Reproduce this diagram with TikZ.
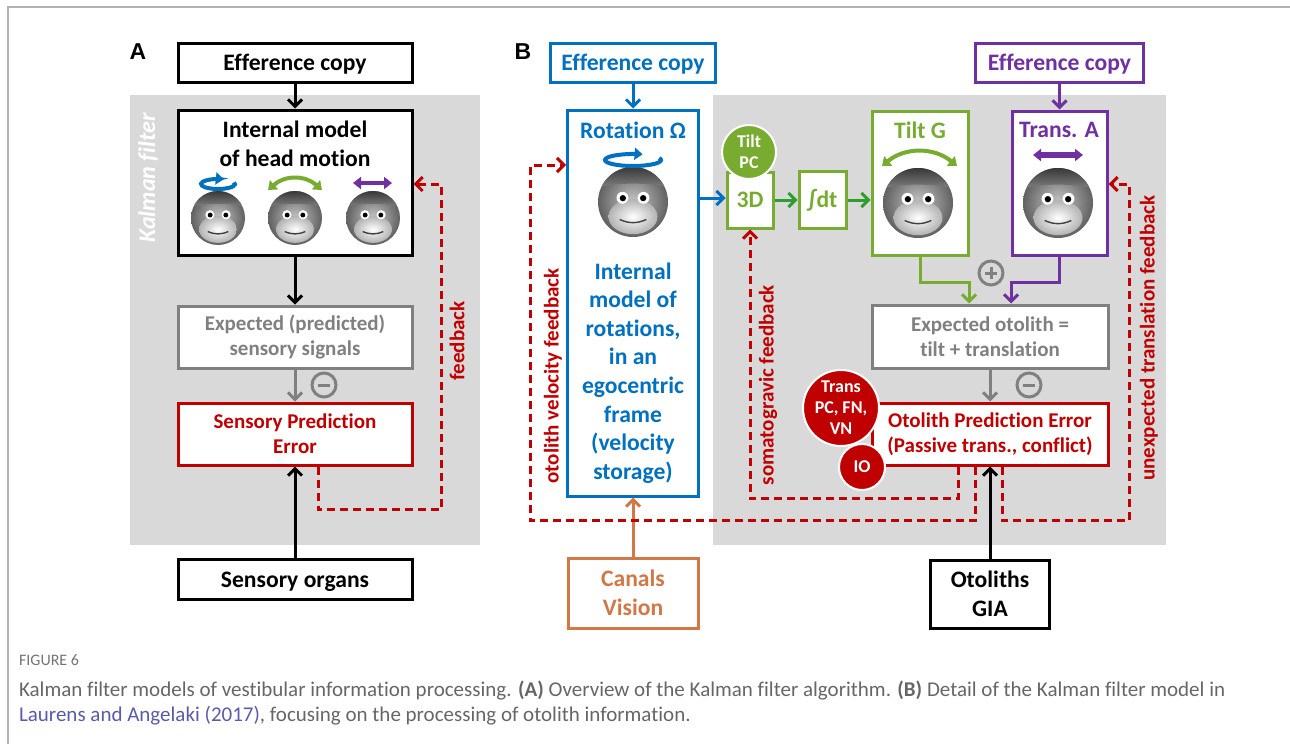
\documentclass[tikz,border=0pt]{standalone}
\usepackage{fontspec}
\setmainfont{Carlito}[Ligatures=CommonOff]
\newfontfamily\arialfont{Liberation Sans}
\usepackage{xcolor}
\usepackage{tikz}
\usetikzlibrary{arrows.meta}

\definecolor{kred}{HTML}{C00000}
\definecolor{kblue}{HTML}{0070C0}
\definecolor{kgreen}{HTML}{77AC30}
\definecolor{kdgreen}{HTML}{2E9E2E}
\definecolor{kpurple}{HTML}{7030A0}
\definecolor{kgray}{HTML}{808080}
\definecolor{kbg}{HTML}{D9D9D9}
\definecolor{korange}{HTML}{D27846}
\definecolor{klink}{HTML}{5A5AAA}

\tikzset{
  box/.style={draw, line width=1.5pt, fill=white, inner sep=0pt, align=center},
  big/.style={align=center, font=\bfseries\fontsize{11.8}{14.3}\selectfont},
  small/.style={align=center, font=\bfseries\fontsize{10.5}{12.5}\selectfont},
  arr/.style={line width=1.5pt, ->},
  fb/.style={kred, line width=1.5pt, dash pattern=on 4pt off 2.5pt, ->},
  sign/.style={circle, draw=kgray, line width=1.5pt, minimum size=12pt, inner sep=0pt},
  minus/.style={sign, path picture={\draw[kgray, line width=1.5pt] ([xshift=-3pt]path picture bounding box.center) -- ([xshift=3pt]path picture bounding box.center);}},
  plus/.style={sign, path picture={\draw[kgray, line width=1.5pt] ([xshift=-3pt]path picture bounding box.center) -- ([xshift=3pt]path picture bounding box.center) ([yshift=-3pt]path picture bounding box.center) -- ([yshift=3pt]path picture bounding box.center);}},
  blob/.style={circle, draw=white, line width=1pt, text=white, inner sep=0pt, align=center, font=\bfseries\fontsize{9}{10.5}\selectfont},
  motion/.style={line width=2pt, {Triangle[length=4pt,width=6pt]}-{Triangle[length=4pt,width=6pt]}},
  monkey/.pic={
    \shade[inner color=black!22, outer color=black!62] (0,0) circle (1);
    \begin{scope}
      \clip (0,0) circle (1);
      \shade[top color=black!78, bottom color=black!50] (-1,-1) -- (1,-1) -- (1,-0.42) .. controls (0.4,-0.56) and (-0.4,-0.56) .. (-1,-0.42) -- cycle;
    \end{scope}
    \shade[inner color=white, outer color=black!30] (0,0.42) ellipse [x radius=0.7, y radius=0.5];
    \fill[white] (-0.3,-0.12) circle (0.17) (0.3,-0.12) circle (0.17);
    \fill[black] (-0.29,-0.11) circle (0.09) (0.29,-0.11) circle (0.09);
    \draw[black!75, line width=0.7pt] (-0.38,0.5) .. controls (-0.12,0.62) and (0.12,0.62) .. (0.38,0.5);
  }
}

\begin{document}
\begin{tikzpicture}[x=0.5pt, y=-0.5pt, >={Straight Barb[length=3.5pt,width=7pt]}]
\useasboundingbox (0,0) rectangle (1290,744);
\draw[black!30, line width=0.6pt] (1290,7) -- (8,7) -- (8,744);
\fill[kbg] (130,95) rectangle (480,545);
\fill[kbg] (713,95) rectangle (1166,545);

% A
\node[font=\arialfont\bfseries\fontsize{11.5}{13}\selectfont] (labA) at (138,52) {A};
\node[white, rotate=90, font=\bfseries\itshape\fontsize{12}{14}\selectfont] (kalman) at (148,178) {Kalman filter};

\node[box, big, text depth=0pt, minimum width=117pt, minimum height=19.5pt] (effA) at (295,62.5) {Efference copy};
\node[box, minimum width=117pt, minimum height=72.5pt] (modelA) at (295,182.5) {};
\node[big] (modelAtxt) at (295,144) {Internal model\\of head motion};
\node[box, small, draw=kgray, text=kgray, minimum width=117pt, minimum height=31pt] (expA) at (295,337) {Expected (predicted)\\sensory signals};
\node[box, small, draw=kred, text=kred, minimum width=117pt, minimum height=31pt] (errA) at (295,434) {Sensory Prediction\\Error};
\node[box, big, text depth=0pt, minimum width=117pt, minimum height=20pt] (orgA) at (295,579.5) {Sensory organs};
\node[minus] (subA) at (324,385) {};

\pic[scale=27] at (218,218) {monkey};
\pic[scale=27] at (295,218) {monkey};
\pic[scale=27] at (373,218) {monkey};
\draw[kblue, line width=2pt, -{Triangle[length=4pt,width=6pt]}] (218,184) ++(-20:17 and 5) arc [start angle=-20, end angle=290, x radius=17, y radius=5];
\draw[kgreen, motion] (268,190) .. controls (285,175) and (305,175) .. (322,190);
\draw[kpurple, motion] (353,183) -- (392,183);

\draw[arr] (effA) -- (modelA);
\draw[arr] (modelA) -- (expA);
\draw[arr, kgray] (expA) -- (errA);
\draw[arr] (orgA) -- (errA);
\draw[fb] ([xshift=11.5pt]errA.south) -- ++(0,43) -| (441,184) -- (modelA.east |- 0,184);
\node[small, kred, rotate=90] (fbA) at (457,341) {feedback};

% B
\node[font=\arialfont\bfseries\fontsize{11.5}{13}\selectfont] (labB) at (523,52) {B};

\node[box, big, text depth=0pt, draw=kblue, text=kblue, minimum width=82.5pt, minimum height=19.5pt] (effB) at (633,62.5) {Efference copy};
\node[box, draw=kblue, minimum width=65.5pt, minimum height=193pt] (rotB) at (633,303) {};
\node[big, text=kblue] (rotBtitle) at (633,130) {Rotation Ω};
\node[big, text=kblue] (rotBtxt) at (633,373) {Internal\\model of\\rotations,\\in an\\egocentric\\frame\\(velocity\\storage)};
\pic[scale=35] at (633,202) {monkey};
\draw[kblue, line width=2pt, -{Triangle[length=4pt,width=6pt]}] (633,160) ++(-20:28 and 6) arc [start angle=-20, end angle=290, x radius=28, y radius=6];

\node[box, big, draw=kgreen, text=kgreen, minimum width=23pt, minimum height=28pt] (thrD) at (750,200) {3D};
\node[blob, fill=kgreen, minimum size=27pt] (tiltPC) at (749,152) {Tilt\\PC};
\node[box, big, draw=kgreen, text=kgreen, minimum width=23.5pt, minimum height=28.5pt] (intB) at (822.5,200) {∫dt};

\node[box, draw=kgreen, minimum width=48pt, minimum height=72pt] (tiltB) at (920,183) {};
\node[big, text=kgreen] (tiltBtitle) at (920,130) {Tilt G};
\pic[scale=35] at (918,203) {monkey};
\draw[kgreen, motion] (882,166) .. controls (905,147) and (934,147) .. (957,166);

\node[box, big, text depth=0pt, draw=kpurple, text=kpurple, minimum width=84pt, minimum height=19.5pt] (effB2) at (1059.5,62.5) {Efference copy};
\node[box, draw=kpurple, minimum width=47.5pt, minimum height=72pt] (transB) at (1059.5,183) {};
\node[big, text=kpurple] (transBtitle) at (1059,130) {Trans. A};
\pic[scale=35] at (1058,203) {monkey};
\draw[kpurple, motion, line width=3pt] (1033,155) -- (1083,155);

\node[box, small, draw=kgray, text=kgray, minimum width=118pt, minimum height=31.5pt] (expB) at (990,336.5) {Expected otolith =\\tilt + translation};
\node[box, small, draw=kred, text=kred, minimum width=118pt, minimum height=31pt] (errB) at (990,434) {Otolith Prediction Error\\(Passive trans., conflict)};
\node[blob, fill=kred, minimum size=38pt] (transPC) at (841,408) {Trans\\PC, FN,\\VN};
\node[blob, fill=kred, minimum size=23pt] (ioB) at (862,467) {IO};
\node[plus] (addB) at (991,273) {};
\node[minus] (subB) at (1029,385) {};

\node[box, big, minimum width=59.5pt, minimum height=34pt] (otoB) at (990,594) {Otoliths\\GIA};
\node[box, big, draw=korange, text=korange, minimum width=65pt, minimum height=35pt] (canB) at (633,593) {Canals\\Vision};

\draw[arr, kblue] (effB) -- (rotB);
\draw[arr, kblue] (rotB.east |- 0,198) -- (thrD.west |- 0,198);
\draw[arr, kdgreen] (thrD) -- (intB);
\draw[arr, kdgreen] (intB) -- (tiltB.west |- intB);
\draw[arr, kpurple] (effB2) -- (transB);
\draw[arr, kgreen] (tiltB.south) -- ++(0,26) -| ([xshift=-10.5pt]expB.north);
\draw[arr, kpurple] (transB.south) -- ++(0,26) -| ([xshift=10.5pt]expB.north);
\draw[arr, kgray] (expB) -- (errB);
\draw[arr] (otoB) -- (errB);
\draw[arr, korange] (canB) -- (rotB);

\draw[fb] ([xshift=-16pt]errB.south) -- ++(0,32) -| (thrD.south);
\draw[fb] ([xshift=-7.5pt]errB.south) -- ++(0,54) -| (530,165) -- (rotB.west |- 0,165);
\draw[fb] ([xshift=6pt]errB.south) -- ++(0,54) -| (1129,184) -- (transB.east |- 0,184);
\node[small, kred, rotate=90] (somaLab) at (768,385) {somatogravic feedback};
\node[small, kred, rotate=90] (veloLab) at (553,376) {otolith velocity feedback};
\node[small, kred, rotate=90] (unexLab) at (1149,338) {unexpected translation feedback};

% caption
\node[anchor=base west, text=black!55, font=\fontsize{8}{9}\selectfont] (figNo) at (12,665) {FIGURE 6};
\node[anchor=base west, text=black!60, font=\fontsize{10.5}{12}\selectfont] (capA) at (12,696) {Kalman filter models of vestibular information processing. \textbf{(A)} Overview of the Kalman filter algorithm. \textbf{(B)} Detail of the Kalman filter model in};
\node[anchor=base west, text=black!60, font=\fontsize{10.5}{12}\selectfont] (capB) at (12,721) {\textcolor{klink}{Laurens and Angelaki (2017)}, focusing on the processing of otolith information.};
\end{tikzpicture}
\end{document}
